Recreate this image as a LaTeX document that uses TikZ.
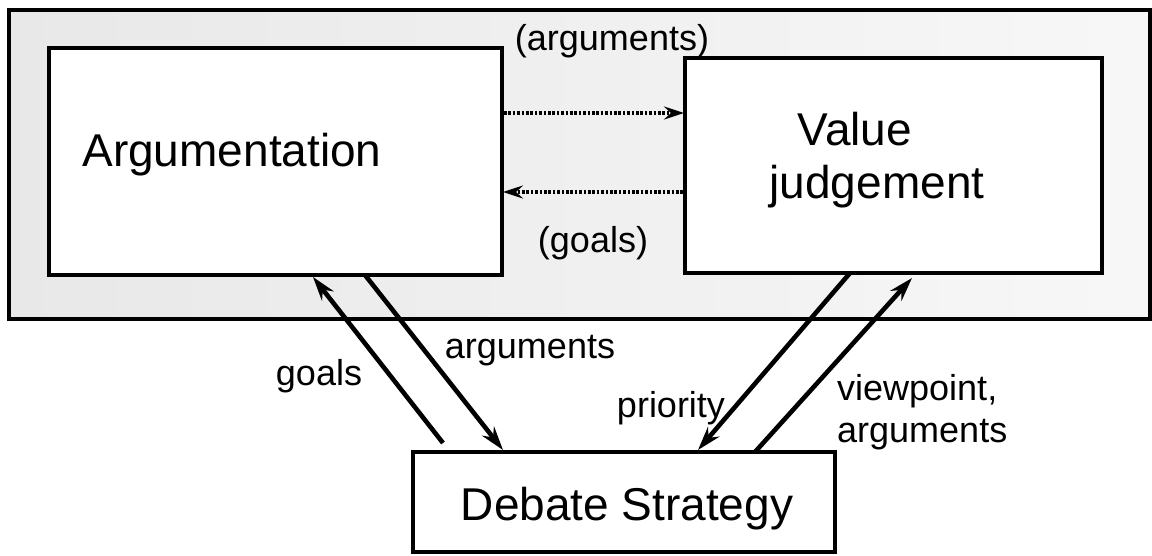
\documentclass[tikz,border=0pt]{standalone}
\usepackage{fontspec}
\setmainfont{Liberation Sans}
\usetikzlibrary{arrows.meta,calc}

\tikzset{
  framebox/.style={draw=black, line width=4.2pt, fill=white, inner sep=0pt, outer sep=0pt},
  boxtext/.style={font=\fontsize{46}{53}\selectfont, inner sep=0pt, anchor=base},
  edgetext/.style={font=\fontsize{36}{42}\selectfont, inner sep=0pt, anchor=base},
  flow/.style={line width=4.6pt, -{Stealth[length=24pt, width=15pt, inset=8pt]}},
  exchange/.style={line width=3.6pt, dash pattern=on 2.6pt off 1.8pt,
                   -{Stealth[length=20pt, width=13pt, inset=7pt]}},
}

\begin{document}
\begin{tikzpicture}[x=1pt, y=-1pt]
  \useasboundingbox (0,0) rectangle (1152,555);

  % shaded enclosure around the two upper modules
  \shade[left color=black!9, middle color=black!16, right color=black!3]
    (9,10) rectangle (1150,319);
  \draw[line width=3.6pt] (9,10) rectangle (1150,319);

  % modules
  \node[framebox, minimum width=453pt, minimum height=227pt, anchor=north west]
    (arg) at (49,48) {};
  \node[framebox, minimum width=417pt, minimum height=215pt, anchor=north west]
    (vj) at (685,58) {};
  \node[framebox, minimum width=422pt, minimum height=100pt, anchor=north west]
    (debate) at (413,452) {};

  % module titles
  \node[boxtext] (argtitle) at (232,166) {Argumentation};
  \node[boxtext] (vjtitle1) at (855,145) {Value};
  \node[boxtext] (vjtitle2) at (877,198) {judgement};
  \node[boxtext] (debatetitle) at (627,520) {Debate Strategy};

  % exchange between argumentation and value judgement
  \draw[exchange] ($(arg.north east)+(2,65)$) -- ($(vj.north west)+(-1,55)$);
  \draw[exchange] ($(vj.north west)+(-2,134)$) -- ($(arg.north east)+(1,144)$);
  \node[edgetext] (lblargs) at (612,50) {(arguments)};
  \node[edgetext] (lblgoals) at (593,252) {(goals)};

  % links to the debate strategy
  \draw[flow] ($(debate.north west)+(30,-9)$) -- ($(arg.south west)+(264,2)$);
  \draw[flow] ($(arg.south west)+(316,0)$) -- ($(debate.north west)+(90,-2)$);
  \draw[flow] ($(vj.south west)+(165,0)$) -- ($(debate.north west)+(285,-2)$);
  \draw[flow] ($(debate.north west)+(342,0)$) -- ($(vj.south west)+(227,5)$);

  \node[edgetext] (lblgoalsup) at (319,385) {goals};
  \node[edgetext] (lblargsdown) at (530,358) {arguments};
  \node[edgetext] (lblpriority) at (671,417) {priority};
  \node[edgetext, anchor=base west, align=left] (lblview) at (837,442)
    {viewpoint,\\arguments};
\end{tikzpicture}
\end{document}
